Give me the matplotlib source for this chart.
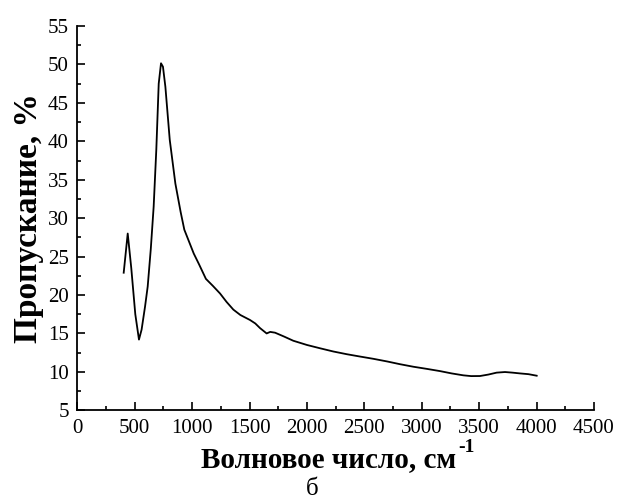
import numpy as np
import matplotlib
matplotlib.use('Agg')
import matplotlib.pyplot as plt
from matplotlib.ticker import MultipleLocator

plt.rcParams['font.family'] = ['Liberation Serif', 'DejaVu Serif']

# wavenumber (cm^-1) and transmittance (%)
wavenumber = [404, 415, 439, 470, 505, 537, 560, 590, 613, 640, 665, 688, 709,
              729, 746, 767, 805, 854, 900, 932, 1014, 1060, 1120, 1180, 1243,
              1300, 1359, 1420, 1504, 1550, 1591, 1649, 1680, 1722, 1800, 1881,
              2000, 2114, 2230, 2346, 2460, 2578, 2700, 2810, 2926, 3040, 3159,
              3260, 3362, 3430, 3507, 3580, 3652, 3725, 3790, 3855, 3930, 4001]
transmittance = [22.9, 24.5, 28.0, 23.5, 17.5, 14.2, 15.5, 18.5, 21.1, 26.0,
                 31.5, 38.9, 47.5, 50.15, 49.7, 47.1, 40.2, 34.5, 30.8, 28.5,
                 25.4, 24.0, 22.1, 21.2, 20.2, 19.1, 18.1, 17.4, 16.75, 16.3,
                 15.7, 15.0, 15.2, 15.1, 14.6, 14.05, 13.5, 13.07, 12.65, 12.3,
                 12.0, 11.7, 11.35, 11.0, 10.67, 10.4, 10.1, 9.8, 9.55, 9.45,
                 9.46, 9.65, 9.9, 9.98, 9.9, 9.8, 9.7, 9.5]

xticks = np.arange(0, 4501, 500)
yticks = np.arange(5, 56, 5)

fig = plt.figure(figsize=(6.17, 5.0), dpi=100)
ax = fig.add_axes([0.1253, 0.1794, 0.8374, 0.7686])
ax.plot(wavenumber, transmittance, color='black', lw=1.3)

ax.set_xlim(0, 4500)
ax.set_ylim(5, 55)
ax.set_xticks(xticks)
ax.set_yticks(yticks)
ax.xaxis.set_minor_locator(MultipleLocator(250))
ax.yaxis.set_minor_locator(MultipleLocator(2.5))
ax.spines['top'].set_visible(False)
ax.spines['right'].set_visible(False)
for s in ['left', 'bottom']:
    ax.spines[s].set_linewidth(1.3)
ax.tick_params(which='major', direction='in', length=5.5, width=1.2,
               labelsize=15, pad=6)
ax.tick_params(which='minor', direction='in', length=3, width=1.2)

ax.set_xlabel('Волновое число, см', fontsize=21, fontweight='bold',
              labelpad=6)
ax.xaxis.label.set_x(0.487)
ax.set_ylabel('Пропускание, %', fontsize=24, fontweight='bold', labelpad=3)
fig.text(0.743, 0.088, '-1', fontsize=14, fontweight='bold',
         ha='left', va='bottom')
fig.text(0.506, 0.0, 'б', fontsize=18, ha='center', va='bottom')

fig.savefig('out.png', dpi=100)
